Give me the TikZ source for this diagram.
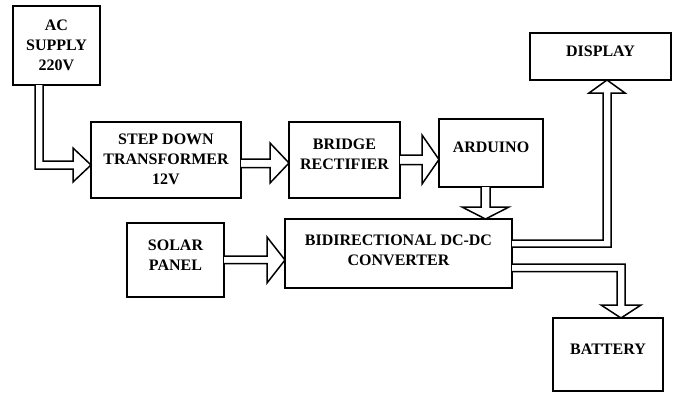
\documentclass[tikz,border=0pt]{standalone}
\usepackage{fontspec}
\setmainfont{Liberation Serif}
\begin{document}
\begin{tikzpicture}[x=1pt,y=-1pt,
  box/.style={draw, line width=1.6pt, inner sep=0pt},
  txt/.style={font=\bfseries\fontsize{16}{20}\selectfont, align=center, inner sep=0pt},
  fat/.style={draw, fill=white, line width=1.5pt, line join=miter}]
\useasboundingbox (0,0) rectangle (676,392);

% blocks
\node[box, minimum width=87pt, minimum height=79pt,
      label={[txt]center:AC\\SUPPLY\\220V}] (ac) at (56.5,45.5) {};
\node[box, minimum width=150pt, minimum height=76pt,
      label={[txt,yshift=1pt]center:STEP DOWN\\TRANSFORMER\\12V}] (step) at (166,160) {};
\node[box, minimum width=111pt, minimum height=76pt,
      label={[txt,yshift=6pt]center:BRIDGE\\RECTIFIER}] (bridge) at (344.5,160) {};
\node[box, minimum width=104pt, minimum height=68pt,
      label={[txt,yshift=5.5pt]center:ARDUINO}] (ard) at (491,153) {};
\node[box, minimum width=141pt, minimum height=47pt,
      label={[txt,yshift=5.5pt]center:DISPLAY}] (disp) at (600.5,56.5) {};
\node[box, minimum width=227pt, minimum height=69pt,
      label={[txt,yshift=3.5pt]center:BIDIRECTIONAL DC-DC\\CONVERTER}] (conv) at (398.5,253.5) {};
\node[box, minimum width=97pt, minimum height=74pt,
      label={[txt,yshift=5pt]center:SOLAR\\PANEL}] (solar) at (175.5,260) {};
\node[box, minimum width=110pt, minimum height=73pt,
      label={[txt,yshift=5.5pt]center:BATTERY}] (batt) at (608,354.5) {};

% hollow arrows
% AC supply -> step down
\path[fat] (35,85) -- (35,169) -- (73,169) -- (73,182) -- (91,165) -- (73,148) -- (73,161) -- (43,161) -- (43,85);
% step down -> bridge
\path[fat] (241,159) -- (270,159) -- (270,143) -- (289,163) -- (270,183) -- (270,167.5) -- (241,167.5);
% bridge -> arduino
\path[fat] (400,155) -- (422,155) -- (422,135) -- (439,159.5) -- (422,184) -- (422,164.5) -- (400,164.5);
% arduino -> converter
\path[fat] (481,187) -- (481,207) -- (462,207) -- (485.5,219) -- (509,207) -- (490,207) -- (490,187);
% solar -> converter
\path[fat] (224,256) -- (267,256) -- (267,237) -- (285,260) -- (267,283) -- (267,263.5) -- (224,263.5);
% converter -> display
\path[fat] (512,240) -- (603,240) -- (603,93) -- (589,93) -- (607,80) -- (625,93) -- (611,93) -- (611,247) -- (512,247);
% converter -> battery
\path[fat] (512,264) -- (625,264) -- (625,305) -- (641,305) -- (621,318) -- (601,305) -- (617,305) -- (617,271.5) -- (512,271.5);
\end{tikzpicture}
\end{document}
